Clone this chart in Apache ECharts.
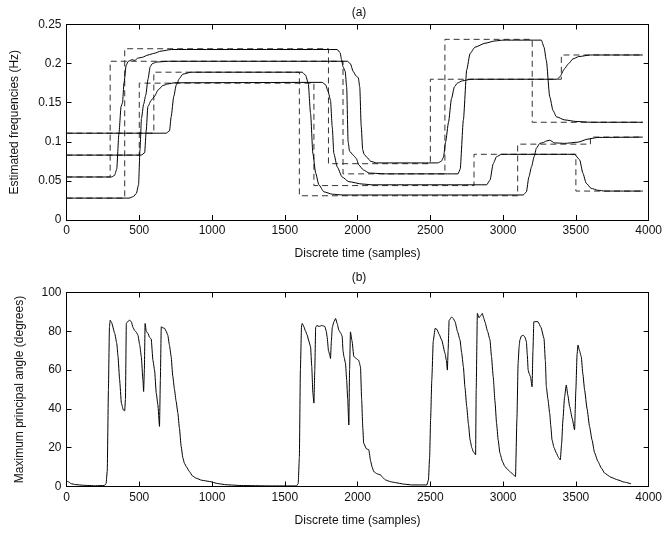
<!DOCTYPE html>
<html>
<head>
<meta charset="utf-8">
<title>Estimated frequencies / principal angle</title>
<script src="https://cdn.jsdelivr.net/npm/echarts@6/dist/echarts.min.js"></script>
<style>
  html, body { margin: 0; padding: 0; background: #fff; }
  #chart { width: 665px; height: 536px; }
</style>
</head>
<body>
<div id="chart"></div>
<script>
    // x range (shared by both panels)
    var timeMax = 4000, timeStep = 500;

    // (a) true frequencies: change times and levels (drawn as dashed steps)
    var srcA_t = [0, 300, 1900, 2600, 3200, 3960];
    var srcA_f = [0.055, 0.203, 0.059, 0.231, 0.125, 0.125];
    var srcB_t = [0, 400, 1800, 2500, 3400, 3960];
    var srcB_f = [0.028, 0.219, 0.072, 0.18, 0.211, 0.211];
    var srcC_t = [0, 500, 1700, 2800, 3500, 3960];
    var srcC_f = [0.083, 0.175, 0.044, 0.084, 0.037, 0.037];
    var srcD_t = [0, 600, 1600, 3100, 3600, 3960];
    var srcD_f = [0.111, 0.189, 0.031, 0.097, 0.106, 0.106];

    // (a) estimated frequencies [time, Hz]
    var est1 = [[0,0.055],[310,0.055],[330,0.057],[345,0.065],[360,0.11],[375,0.145],[385,0.15],[395,0.175],[410,0.198],
        [425,0.203],[450,0.205],[470,0.204],[490,0.207],[520,0.208],[560,0.211],[600,0.213],[650,0.216],[720,0.218],
        [1860,0.218],[1880,0.214],[1890,0.205],[1900,0.196],[1915,0.19],[1925,0.17],[1935,0.1],[1945,0.088],[1970,0.083],
        [1990,0.079],[2010,0.07],[2040,0.064],[2080,0.06],[2200,0.059],[2690,0.059],[2705,0.065],[2727,0.128],[2750,0.192],
        [2773,0.213],[2807,0.221],[2875,0.226],[2944,0.229],[3000,0.23],[3263,0.23],[3281,0.221],[3297,0.204],[3320,0.158],
        [3343,0.14],[3366,0.132],[3423,0.128],[3500,0.126],[3600,0.125],[3960,0.125]];
    var est2 = [[0,0.028],[430,0.028],[460,0.03],[480,0.034],[495,0.045],[505,0.09],[515,0.13],[530,0.148],[545,0.16],
        [560,0.18],[575,0.196],[590,0.2],[620,0.202],[700,0.203],[1930,0.203],[1950,0.2],[1970,0.19],[1990,0.184],
        [2005,0.182],[2015,0.17],[2025,0.12],[2035,0.09],[2045,0.084],[2065,0.08],[2090,0.075],[2130,0.073],[2550,0.073],
        [2575,0.075],[2590,0.08],[2605,0.1],[2625,0.125],[2645,0.155],[2665,0.17],[2685,0.175],[2720,0.178],[2780,0.18],
        [3370,0.18],[3390,0.183],[3420,0.193],[3450,0.2],[3480,0.206],[3520,0.209],[3600,0.211],[3960,0.211]];
    var est3 = [[0,0.083],[514,0.083],[537,0.086],[548,0.115],[559,0.145],[582,0.153],[605,0.158],[628,0.166],[662,0.172],
        [696,0.174],[742,0.1755],[1757,0.176],[1780,0.173],[1798,0.164],[1814,0.153],[1826,0.119],[1837,0.085],[1860,0.068],
        [1894,0.055],[1940,0.049],[2031,0.046],[2100,0.045],[2887,0.045],[2910,0.051],[2932,0.072],[2955,0.081],[2989,0.084],
        [3491,0.084],[3526,0.077],[3548,0.06],[3571,0.047],[3605,0.0405],[3651,0.038],[3700,0.037],[3960,0.037]];
    var est4 = [[0,0.111],[685,0.111],[708,0.114],[719,0.132],[737,0.158],[754,0.1725],[776,0.181],[799,0.1865],[856,0.189],
        [1620,0.189],[1643,0.185],[1661,0.175],[1677,0.136],[1693,0.085],[1712,0.06],[1734,0.045],[1769,0.036],[1826,0.033],
        [1900,0.032],[3138,0.032],[3160,0.036],[3177,0.055],[3195,0.068],[3213,0.081],[3229,0.092],[3252,0.098],[3275,0.099],
        [3297,0.101],[3320,0.102],[3354,0.0986],[3423,0.098],[3514,0.0995],[3583,0.1035],[3651,0.1056],[3960,0.106]];

    // (b) maximum principal angle [time, degrees]
    var angle = [[0,2.8],[15,2.4],[30,1.5],[60,1.0],[120,0.6],[200,0.4],[260,0.5],[272,1.5],[280,8],[288,50],[295,82],
        [300,85.7],[310,84.5],[331,79],[345,74],[354,67],[365,55],[377,43],[390,39.5],[400,39],[405,45],[411,84],[420,85],
        [434,85.7],[445,85],[457,82],[468,80.5],[480,79.5],[491,78],[503,73],[514,67],[525,55],[530,49],[535,60],[540,84],
        [548,80],[560,78.9],[570,77],[582,76],[594,65],[605,60],[617,48],[628,42],[639,31],[645,55],[651,82.3],[662,81.8],
        [674,81.5],[685,80],[696,78],[707,73],[719,67],[730,57],[742,50],[753,44],[765,38],[776,30],[788,20.6],[799,15],
        [810,12],[825,10],[845,7.7],[865,5.5],[890,4.3],[930,3.2],[982,2.6],[1040,1.5],[1096,0.9],[1200,0.5],[1400,0.3],
        [1580,0.3],[1592,1.5],[1600,15],[1607,60],[1615,83],[1620,84],[1630,82.5],[1643,80],[1654,78],[1665,75],[1677,72],
        [1685,62],[1693,48],[1700,43],[1706,60],[1712,82],[1720,83],[1735,82.5],[1755,83],[1775,82.5],[1785,80],[1791,77],
        [1800,70],[1808,68],[1814,66],[1820,75],[1826,82],[1838,85],[1849,86.6],[1860,84],[1871,80.6],[1885,79],[1894,77.5],
        [1900,70],[1906,67],[1917,63.5],[1925,55],[1932,45],[1940,31.7],[1945,60],[1951,79.7],[1962,75],[1974,67],[1990,66],
        [2008,65],[2020,61.7],[2028,45],[2036,30],[2042,22.3],[2060,19.5],[2077,18.9],[2090,13],[2100,10],[2111,7.7],
        [2135,6.5],[2157,6],[2175,4.5],[2191,3.4],[2225,2.5],[2259,2],[2320,1.2],[2373,0.8],[2476,0.8],[2487,3.4],[2495,15],
        [2502,35],[2510,55],[2520,75],[2533,81.5],[2545,81],[2560,78.5],[2578,75.5],[2601,68.6],[2610,65],[2617,60],[2622,70],
        [2629,85.7],[2647,87.4],[2658,86.5],[2670,84.9],[2686,80],[2704,75.5],[2715,69],[2727,61.7],[2738,51],[2750,41.2],
        [2762,32],[2773,24],[2785,20],[2795,18],[2805,17],[2811,16.3],[2815,50],[2823,89.2],[2835,87],[2845,88],[2857,89.2],
        [2866,87],[2875,84.9],[2893,80],[2910,75.5],[2920,67],[2932,56.6],[2944,44],[2955,32.6],[2966,24],[2978,17.2],
        [2995,13],[3012,10.3],[3035,8.5],[3058,6.9],[3075,5.8],[3085,5.1],[3095,35],[3103,63.5],[3110,72],[3115,75.5],
        [3125,77.5],[3138,78],[3150,77],[3160,74.6],[3166,68],[3172,60],[3180,58],[3188,56.6],[3199,51.4],[3205,70],
        [3211,84.9],[3225,85],[3240,84.9],[3260,82],[3281,76.3],[3290,65],[3297,51.4],[3308,45],[3320,37.8],[3328,31],
        [3336,24],[3350,20],[3366,17.2],[3380,15],[3393,13.7],[3402,22],[3411,34.3],[3422,46],[3434,52.3],[3445,47],
        [3457,41.2],[3475,35],[3491,29.2],[3500,50],[3508,68],[3514,72.9],[3525,70],[3537,66.9],[3548,58],[3560,49.7],
        [3577,40],[3594,30.9],[3611,24],[3628,17.5],[3651,13],[3675,9.5],[3697,6.9],[3740,4.8],[3788,3.4],[3830,2.3],[3879,1.4]];

    function zip(ts, vs) {
        return ts.map(function (t, i) { return [t, vs[i]]; });
    }

    var font = 'Liberation Sans, Arial, sans-serif';
    var black = '#000';

    function plain(v) { return String(v); }

    function xAxisFor(grid, main) {
        return {
            type: 'value', gridIndex: grid, min: 0, max: timeMax, interval: timeStep,
            position: main ? 'bottom' : 'top',
            name: main ? 'Discrete time (samples)' : '',
            nameLocation: 'middle', nameGap: 28,
            nameTextStyle: { fontSize: 12, color: '#111', fontFamily: font },
            axisLine: { show: true, onZero: false, lineStyle: { color: black, width: 1 } },
            axisTick: { show: true, inside: true, length: 5, lineStyle: { color: black } },
            axisLabel: { show: main, margin: 5, fontSize: 12, color: '#111', fontFamily: font, formatter: plain },
            splitLine: { show: false }
        };
    }

    function yAxisFor(grid, main, max, step, name, gap) {
        return {
            type: 'value', gridIndex: grid, min: 0, max: max, interval: step,
            position: main ? 'left' : 'right',
            name: main ? name : '',
            nameLocation: 'middle', nameGap: gap,
            nameTextStyle: { fontSize: 12, color: '#111', fontFamily: font },
            axisLine: { show: true, onZero: false, lineStyle: { color: black, width: 1 } },
            axisTick: { show: true, inside: true, length: 5, lineStyle: { color: black } },
            axisLabel: { show: main, margin: 5, fontSize: 12, color: '#111', fontFamily: font },
            splitLine: { show: false }
        };
    }

    function estLine(data) {
        return {
            type: 'line', xAxisIndex: 0, yAxisIndex: 0, data: data,
            showSymbol: false, silent: true, smooth: 0.2, smoothMonotone: 'x',
            lineStyle: { color: black, width: 1 }, z: 3
        };
    }

    function srcLine(ts, vs) {
        return {
            type: 'line', xAxisIndex: 0, yAxisIndex: 0, data: zip(ts, vs), step: 'end',
            showSymbol: false, silent: true,
            lineStyle: { color: '#333', width: 1, type: [6, 4] }, z: 2
        };
    }

    var chart = echarts.init(document.getElementById('chart'));
    var option = {
        animation: false,
        backgroundColor: '#fff',
        textStyle: { fontFamily: font },
        graphic: [
            { type: 'text', x: 359, y: 13, style: { text: '(a)', font: '12px ' + font, fill: '#111', align: 'center', verticalAlign: 'middle' } },
            { type: 'text', x: 359, y: 278, style: { text: '(b)', font: '12px ' + font, fill: '#111', align: 'center', verticalAlign: 'middle' } }
        ],
        grid: [
            { left: 66.5, right: 14, top: 24.5, height: 195.5 },
            { left: 66.5, right: 14, top: 292.5, height: 194 }
        ],
        xAxis: [
            xAxisFor(0, true), xAxisFor(0, false),
            xAxisFor(1, true), xAxisFor(1, false)
        ],
        yAxis: [
            yAxisFor(0, true, 0.25, 0.05, 'Estimated frequencies (Hz)', 46),
            yAxisFor(0, false, 0.25, 0.05, '', 0),
            yAxisFor(1, true, 100, 20, 'Maximum principal angle (degrees)', 41),
            yAxisFor(1, false, 100, 20, '', 0)
        ],
        series: [
            srcLine(srcA_t, srcA_f),
            srcLine(srcB_t, srcB_f),
            srcLine(srcC_t, srcC_f),
            srcLine(srcD_t, srcD_f),
            estLine(est1),
            estLine(est2),
            estLine(est3),
            estLine(est4),
            {
                type: 'line', xAxisIndex: 2, yAxisIndex: 2, data: angle,
                showSymbol: false, silent: true, smooth: 0.15, smoothMonotone: 'x',
                lineStyle: { color: black, width: 1 }
            }
        ]
    };
    chart.setOption(option);
</script>
</body>
</html>
